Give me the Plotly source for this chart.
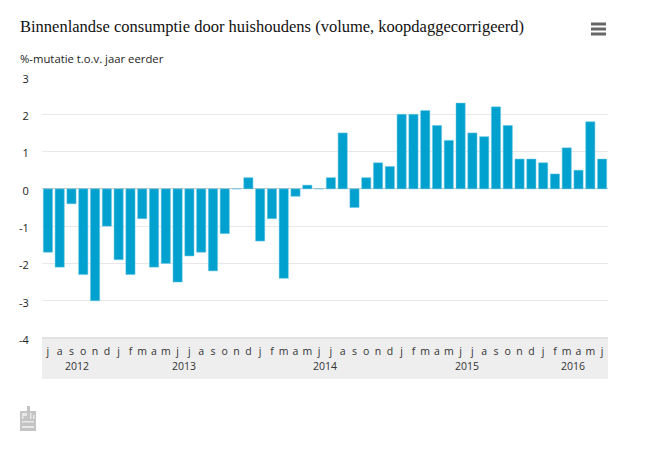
import plotly.graph_objects as go

# %-mutatie per maand, juli 2012 t/m juni 2016
months = ["j", "a", "s", "o", "n", "d",
          "j", "f", "m", "a", "m", "j", "j", "a", "s", "o", "n", "d",
          "j", "f", "m", "a", "m", "j", "j", "a", "s", "o", "n", "d",
          "j", "f", "m", "a", "m", "j", "j", "a", "s", "o", "n", "d",
          "j", "f", "m", "a", "m", "j"]
values = [-1.7, -2.1, -0.4, -2.3, -3.0, -1.0,
          -1.9, -2.3, -0.8, -2.1, -2.0, -2.5, -1.8, -1.7, -2.2, -1.2, 0.0, 0.3,
          -1.4, -0.8, -2.4, -0.2, 0.1, 0.0, 0.3, 1.5, -0.5, 0.3, 0.7, 0.6,
          2.0, 2.0, 2.1, 1.7, 1.3, 2.3, 1.5, 1.4, 2.2, 1.7, 0.8, 0.8,
          0.7, 0.4, 1.1, 0.5, 1.8, 0.8]
years = ["2012", "2013", "2014", "2015", "2016"]
year_counts = [6, 12, 12, 12, 6]
y_ticks = [3, 2, 1, 0, -1, -2, -3, -4]
y_labels = ["3", "2", "1", "0", "-1", "-2", "-3", "-4"]

# de pagina heeft 8px body-marge, dus de figuur is kleiner dan het venster
PAGE = 8
WIDTH, HEIGHT = 650 - PAGE, 450 - PAGE
LEFT, RIGHT, TOP, BOTTOM = 42, 608, 77, 338


def px_x(x):
    return (x - LEFT) / (RIGHT - LEFT)


def px_y(y):
    return (BOTTOM - y) / (BOTTOM - TOP)


def box(x0, y0, x1, y1, color, layer="above"):
    return dict(type="rect", xref="paper", yref="paper", layer=layer,
                x0=px_x(x0), x1=px_x(x1), y0=px_y(y0), y1=px_y(y1),
                fillcolor=color, line_width=0)


positions = list(range(len(months)))

fig = go.Figure(go.Bar(x=positions, y=values, marker_color="#00a1cf",
                       marker_line=dict(color="#66c6e2", width=0.5)))

# grijze band onder de as, met iets donkerder bovenrand
shapes = [box(42, 337, 608, 379, "#eeeeee", "below"),
          box(42, 337, 608, 339, "#e2e2e2", "below")]

# menu-icoon
for y in (24, 29, 34):
    shapes.append(box(591, y - 1.5, 606, y + 1.5, "#666666"))

# cbs-logo, grof nagetekend
shapes += [
    box(20, 411, 36, 431, "#c4c4c4"),
    box(27, 406, 30, 411, "#c4c4c4"),
    box(22, 413, 27, 416, "#e8e8e8"),
    box(22, 416, 23.5, 419, "#e8e8e8"),
    box(30, 413, 31.5, 419, "#e8e8e8"),
    box(33, 415, 34.5, 419, "#e8e8e8"),
    box(22, 421, 34, 422.5, "#e8e8e8"),
    box(22, 426, 34, 428, "#e8e8e8"),
]

annotations = [
    dict(text="Binnenlandse consumptie door huishoudens (volume, koopdaggecorrigeerd)",
         xref="paper", yref="paper", x=px_x(18), y=px_y(27),
         xanchor="left", yanchor="middle", showarrow=False,
         font=dict(family="Liberation Serif", size=16.5, color="#111111")),
    dict(text="%-mutatie t.o.v. jaar eerder",
         xref="paper", yref="paper", x=px_x(18), y=px_y(58),
         xanchor="left", yanchor="middle", showarrow=False,
         font=dict(family="Open Sans", size=11.3, color="#222222")),
]

# jaartallen midden onder hun maanden
start = 0
for year, count in zip(years, year_counts):
    annotations.append(dict(text=year, xref="x", yref="paper",
                            x=start + (count - 1) / 2, y=px_y(365.5),
                            xanchor="center", yanchor="middle", showarrow=False,
                            font=dict(family="Open Sans", size=10.5, color="#333333")))
    start += count

fig.update_layout(
    width=WIDTH,
    height=HEIGHT,
    margin=dict(l=LEFT - PAGE, r=650 - RIGHT, t=TOP - PAGE, b=450 - BOTTOM, autoexpand=False),
    paper_bgcolor="white",
    plot_bgcolor="white",
    showlegend=False,
    bargap=0.22,
    shapes=shapes,
    annotations=annotations,
)
fig.update_xaxes(range=[-0.5, len(months) - 0.5], tickmode="array",
                 tickvals=positions, ticktext=months, tickangle=0,
                 ticks="outside", ticklen=3, tickcolor="rgba(0,0,0,0)",
                 tickfont=dict(family="Open Sans", size=10.5, color="#333333"),
                 showgrid=False, zeroline=False, showline=False)
fig.update_yaxes(range=[-4, 3], tickmode="array", tickvals=y_ticks, ticktext=y_labels,
                 ticks="outside", ticklen=10, tickcolor="rgba(0,0,0,0)",
                 ticklabelshift=2,
                 tickfont=dict(family="Open Sans", size=11, color="#222222"),
                 gridcolor="#e8e8e8", gridwidth=1,
                 zeroline=True, zerolinecolor="#c8c8c8", zerolinewidth=1,
                 showline=False)

fig.write_html("out.html")
